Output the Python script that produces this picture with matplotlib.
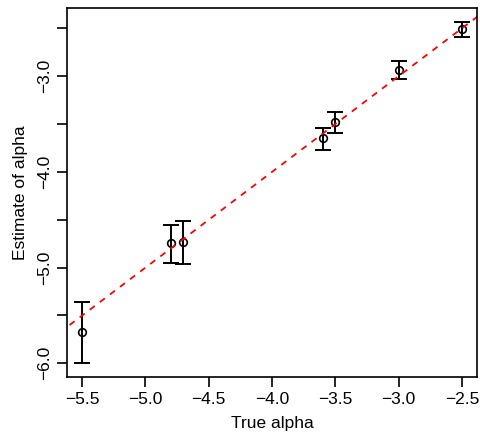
import matplotlib.pyplot as plt
import numpy as np

plt.rcParams["font.family"] = ["Liberation Sans", "DejaVu Sans"]

# true vs estimated alpha with interval bounds
true_alpha = [-5.5, -4.8, -4.7, -3.6, -3.5, -3.0, -2.5]
est_alpha = [-5.67, -4.74, -4.73, -3.65, -3.48, -2.93, -2.505]
lower = [-6.0, -4.95, -4.96, -3.77, -3.59, -3.03, -2.59]
upper = [-5.36, -4.55, -4.51, -3.54, -3.37, -2.84, -2.43]

x_ticks = [-5.5, -5.0, -4.5, -4.0, -3.5, -3.0, -2.5]
y_ticks = [-6.0, -5.5, -5.0, -4.5, -4.0, -3.5, -3.0, -2.5]
y_labels = ["-6.0", "", "-5.0", "", "-4.0", "", "-3.0", ""]

fig = plt.figure(figsize=(4.8, 4.38), dpi=100)
ax = fig.add_axes([0.1396, 0.1393, 0.8542, 0.8424])

x = np.array(true_alpha)
y = np.array(est_alpha)
err = [y - np.array(lower), np.array(upper) - y]
ax.errorbar(x, y, yerr=err, fmt="none", ecolor="black", elinewidth=1.4,
            capsize=5.5, capthick=1.4)
ax.plot(x, y, "o", mfc="none", mec="black", ms=5.5, mew=1.2)

xmin, xmax = x.min(), x.max()
ymin, ymax = min(lower), max(upper)
px = (xmax - xmin) * 0.04
py = (ymax - ymin) * 0.04
ax.set_xlim(xmin - px, xmax + px)
ax.set_ylim(ymin - py, ymax + py)

# identity line
lim = np.array([-7, -1])
ax.plot(lim, lim, color="red", ls=(0, (3.5, 3.5)), lw=1.3)

ax.set_xticks(x_ticks)
ax.set_xticklabels([f"{v:.1f}".replace("-", "\u2212") for v in x_ticks])
ax.set_yticks(y_ticks)
ax.set_yticklabels([s.replace("-", "\u2212") for s in y_labels],
                   rotation=90, va="center")
ax.tick_params(direction="out", length=7, width=1.2, labelsize=12.5, pad=4)

for s in ax.spines.values():
    s.set_linewidth(1.2)

ax.set_xlabel("True alpha", fontsize=12.5, labelpad=6)
ax.set_ylabel("Estimate of alpha", fontsize=12.5, labelpad=6)

fig.savefig("out.png", dpi=100)
